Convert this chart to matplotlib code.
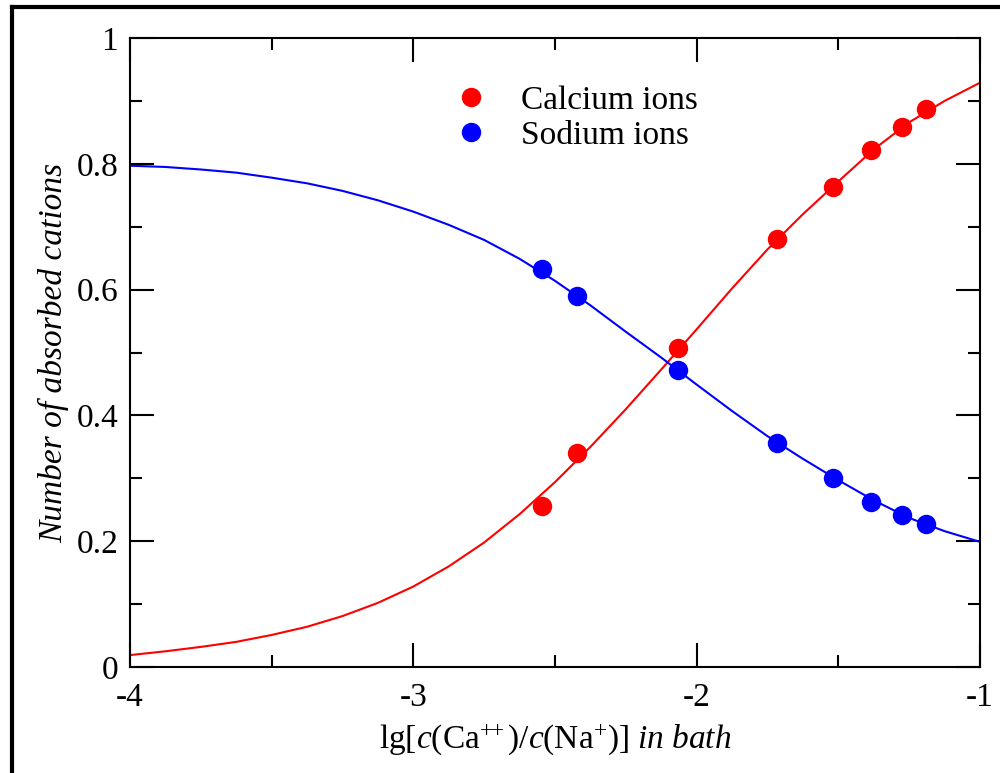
import matplotlib
matplotlib.use("Agg")
import matplotlib.pyplot as plt
from matplotlib.lines import Line2D
from matplotlib.ticker import MultipleLocator

# ---- data ----
ca_x = [-2.545, -2.422, -2.067, -1.715, -1.520, -1.384, -1.275, -1.192]
ca_y = [0.256, 0.341, 0.507, 0.680, 0.763, 0.822, 0.859, 0.887]
na_x = [-2.545, -2.422, -2.067, -1.715, -1.520, -1.384, -1.275, -1.192]
na_y = [0.632, 0.590, 0.473, 0.356, 0.301, 0.262, 0.241, 0.228]

curve_x = [-4.000, -3.875, -3.750, -3.625, -3.500, -3.375, -3.250, -3.125,
           -3.000, -2.875, -2.750, -2.625, -2.500, -2.375, -2.250, -2.125,
           -2.000, -1.875, -1.750, -1.625, -1.500, -1.375, -1.250, -1.125,
           -1.000]
ca_curve = [0.019, 0.025, 0.032, 0.040, 0.051, 0.064, 0.081, 0.102,
            0.128, 0.160, 0.198, 0.243, 0.294, 0.350, 0.410, 0.473,
            0.537, 0.602, 0.664, 0.720, 0.772, 0.823, 0.866, 0.900,
            0.929]
na_curve = [0.797, 0.795, 0.791, 0.786, 0.778, 0.769, 0.757, 0.742,
            0.724, 0.703, 0.679, 0.649, 0.614, 0.575, 0.533, 0.492,
            0.449, 0.407, 0.367, 0.331, 0.297, 0.265, 0.237, 0.216,
            0.199]

labels = ["Calcium ions", "Sodium ions"]
xlabel = (r"$\mathrm{lg[}\mathit{c}\mathrm{(Ca}^{+\!\!+}\mathrm{)/}\mathit{c}"
          r"\mathrm{(Na}^{+}\mathrm{)]}\ \mathit{in\ bath}$")
ylabel = "Number of absorbed cations"

# ---- style ----
plt.rcParams["font.family"] = ["Liberation Serif", "DejaVu Serif"]
plt.rcParams["mathtext.fontset"] = "custom"
plt.rcParams["mathtext.rm"] = "Liberation Serif"
plt.rcParams["mathtext.it"] = "Liberation Serif:italic"
plt.rcParams["axes.unicode_minus"] = False
plt.rcParams["lines.solid_joinstyle"] = "round"
FS = 24

fig = plt.figure(figsize=(10, 7.73), dpi=100)
ax = fig.add_axes([0.13, 0.1371, 0.85, 0.8137])

ax.plot(curve_x, ca_curve, color="red", lw=1.5, zorder=2)
ax.plot(curve_x, na_curve, color="blue", lw=1.5, zorder=2)
ax.plot(ca_x, ca_y, "o", color="red", ms=14, mec="none", zorder=3)
ax.plot(na_x, na_y, "o", color="blue", ms=14, mec="none", zorder=3)

ax.set_xlim(-4, -1)
ax.set_ylim(0, 1)
ax.xaxis.set_minor_locator(MultipleLocator(0.5))
ax.yaxis.set_minor_locator(MultipleLocator(0.1))
ax.set_xticks([-4, -3, -2, -1])
ax.set_xticklabels(["-4", "-3", "-2", "-1"])
ax.set_yticks([0, 0.2, 0.4, 0.6, 0.8, 1.0])
ax.set_yticklabels(["0", "0.2", "0.4", "0.6", "0.8", "1"])

ax.tick_params(which="both", direction="in", top=True, right=True,
               width=1.5, labelsize=FS, color="black")
ax.tick_params(which="major", length=17)
ax.tick_params(which="minor", length=8.6)
ax.tick_params(axis="x", which="major", pad=11.5)
ax.tick_params(axis="y", which="major", pad=8.5)
for s in ax.spines.values():
    s.set_linewidth(1.5)

ax.set_xlabel(xlabel, fontsize=FS, labelpad=6)
ax.set_ylabel(ylabel, fontsize=FS, style="italic", labelpad=5)

handles = [Line2D([], [], marker="o", ls="none", color="red", ms=14, mec="none"),
           Line2D([], [], marker="o", ls="none", color="blue", ms=14, mec="none")]
ax.legend(handles, labels, loc="upper left", bbox_to_anchor=(0.382, 0.925),
          frameon=False, fontsize=FS, handlelength=1.0, handletextpad=1.0,
          labelspacing=0.14, borderpad=0, borderaxespad=0)

# outer frame (left and top edges visible)
W, H = 1000, 773
fig.add_artist(Line2D([12 / W, 12 / W], [0, 1 - 7 / H], transform=fig.transFigure,
                      color="black", lw=3))
fig.add_artist(Line2D([12 / W, 1], [1 - 7 / H, 1 - 7 / H], transform=fig.transFigure,
                      color="black", lw=3))

fig.savefig("out.png", dpi=100)
